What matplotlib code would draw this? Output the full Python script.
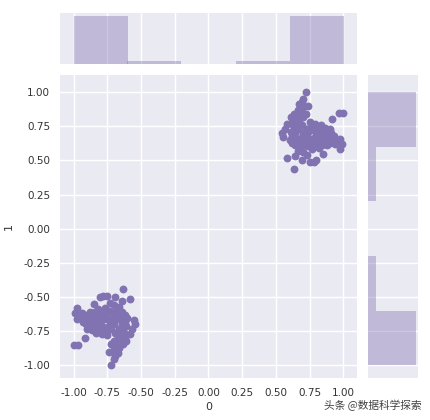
import matplotlib
matplotlib.use("Agg")
import matplotlib.pyplot as plt
import numpy as np

### data : two clusters, lower-left and upper-right
x_low = [-0.63, -0.78, -0.80, -0.755, -0.69, -0.58, -0.64, -0.85, -0.73, -0.975, -0.70, -0.77, -0.66, -0.82,
         -0.99, -0.94, -0.975, -0.96, -0.92, -0.90, -0.88, -0.86, -0.84, -0.82, -0.80, -0.78, -0.76, -0.74,
         -0.72, -0.70, -0.68, -0.66, -0.64, -0.62,
         -0.93, -0.91, -0.89, -0.87, -0.85, -0.83, -0.81, -0.79, -0.77, -0.75, -0.73, -0.71, -0.69, -0.67, -0.65,
         -0.90, -0.88, -0.86, -0.84, -0.82, -0.80, -0.78, -0.76, -0.74, -0.72, -0.70,
         -0.83, -0.79, -0.75, -0.69,
         -0.605, -0.555, -0.545, -0.565, -0.58, -0.61, -0.62, -0.61, -0.63, -0.62, -0.64, -0.66, -0.65, -0.68,
         -0.66, -0.64, -0.62, -0.63, -0.65, -0.67, -0.70, -0.72, -0.68, -0.66, -0.69, -0.70, -0.74, -0.67,
         -0.69, -0.70, -0.72,
         -1.00, -0.965, -0.915]
y_low = [-0.44, -0.49, -0.50, -0.49, -0.50, -0.515, -0.53, -0.55, -0.54, -0.58, -0.56, -0.58, -0.57, -0.59,
         -0.62, -0.62, -0.66, -0.64, -0.65, -0.63, -0.61, -0.63, -0.61, -0.62, -0.605, -0.61, -0.62, -0.605,
         -0.61, -0.62, -0.605, -0.62, -0.61, -0.63,
         -0.68, -0.70, -0.67, -0.69, -0.66, -0.68, -0.65, -0.67, -0.64, -0.66, -0.68, -0.65, -0.67, -0.64, -0.66,
         -0.73, -0.72, -0.74, -0.71, -0.73, -0.70, -0.72, -0.75, -0.71, -0.73, -0.70,
         -0.76, -0.77, -0.78, -0.76,
         -0.65, -0.67, -0.70, -0.73, -0.77, -0.82, -0.68, -0.71, -0.74, -0.77, -0.70, -0.73, -0.76, -0.77,
         -0.79, -0.80, -0.81, -0.84, -0.83, -0.82, -0.82, -0.84, -0.85, -0.87, -0.88, -0.89, -0.90, -0.91,
         -0.93, -0.95, -1.00,
         -0.85, -0.85, -0.80]
x_high = [0.63, 0.78, 0.80, 0.755, 0.69, 0.58, 0.64, 0.85, 0.73, 0.975, 0.70, 0.77, 0.66, 0.82,
          0.99, 0.94, 0.975, 0.96, 0.92, 0.90, 0.88, 0.86, 0.84, 0.82, 0.80, 0.78, 0.76, 0.74,
          0.72, 0.70, 0.68, 0.66, 0.64, 0.62,
          0.93, 0.91, 0.89, 0.87, 0.85, 0.83, 0.81, 0.79, 0.77, 0.75, 0.73, 0.71, 0.69, 0.67, 0.65,
          0.90, 0.88, 0.86, 0.84, 0.82, 0.80, 0.78, 0.76, 0.74, 0.72, 0.70,
          0.83, 0.79, 0.75, 0.69,
          0.605, 0.555, 0.545, 0.565, 0.58, 0.61, 0.62, 0.61, 0.63, 0.62, 0.64, 0.66, 0.65, 0.68,
          0.66, 0.64, 0.62, 0.63, 0.65, 0.67, 0.70, 0.72, 0.68, 0.66, 0.69, 0.70, 0.74, 0.67,
          0.69, 0.70, 0.72,
          1.00, 0.965, 0.915]
y_high = [0.44, 0.49, 0.50, 0.49, 0.50, 0.515, 0.53, 0.55, 0.54, 0.58, 0.56, 0.58, 0.57, 0.59,
          0.62, 0.62, 0.66, 0.64, 0.65, 0.63, 0.61, 0.63, 0.61, 0.62, 0.605, 0.61, 0.62, 0.605,
          0.61, 0.62, 0.605, 0.62, 0.61, 0.63,
          0.68, 0.70, 0.67, 0.69, 0.66, 0.68, 0.65, 0.67, 0.64, 0.66, 0.68, 0.65, 0.67, 0.64, 0.66,
          0.73, 0.72, 0.74, 0.71, 0.73, 0.70, 0.72, 0.75, 0.71, 0.73, 0.70,
          0.76, 0.77, 0.78, 0.76,
          0.65, 0.67, 0.70, 0.73, 0.77, 0.82, 0.68, 0.71, 0.74, 0.77, 0.70, 0.73, 0.76, 0.77,
          0.79, 0.80, 0.81, 0.84, 0.83, 0.82, 0.82, 0.84, 0.85, 0.87, 0.88, 0.89, 0.90, 0.91,
          0.93, 0.95, 1.00,
          0.85, 0.85, 0.80]

x = np.array(x_low + x_high)
y = np.array(y_low + y_high)
ticks = [-1.00, -0.75, -0.50, -0.25, 0.00, 0.25, 0.50, 0.75, 1.00]

### style
clr = "#8172B2"
bg = "#EAEAF2"
W, H = 431, 420

def box(l, t, r, b):
    return [l / W, 1 - b / H, (r - l) / W, (b - t) / H]

def dark(ax):
    ax.set_facecolor(bg)
    for s in ax.spines.values():
        s.set_visible(False)
    ax.set_axisbelow(True)
    ax.tick_params(length=0, labelsize=7.5, labelcolor="#333333", pad=7)

fig = plt.figure(figsize=(W / 100, H / 100), dpi=100)
ax = fig.add_axes(box(60, 75, 357, 378))
axx = fig.add_axes(box(60, 13, 357, 64), sharex=ax)
axy = fig.add_axes(box(368, 75, 418, 378), sharey=ax)
for a in (ax, axx, axy):
    dark(a)

# joint scatter
ax.scatter(x, y, s=32, color=clr, linewidth=0)
ax.set_xlim(-1.1, 1.1)
ax.set_ylim(-1.092, 1.125)
ax.set_xticks(ticks)
ax.set_yticks(ticks)
ax.set_xticklabels(["%.2f" % t for t in ticks])
ax.set_yticklabels(["%.2f" % t for t in ticks])
ax.grid(True, color="white", linewidth=1)
ax.set_xlabel("0", fontsize=8, color="#333333", labelpad=3)
ax.set_ylabel("1", fontsize=8, color="#333333", labelpad=7)

# marginal histograms
nx, _, _ = axx.hist(x, bins=5, color=clr, alpha=0.4)
ny, _, _ = axy.hist(y, bins=5, color=clr, alpha=0.4, orientation="horizontal")
axx.set_ylim(0, nx.max() * 1.06)
axy.set_xlim(0, ny.max() * 1.04)
axx.xaxis.grid(True, color="white", linewidth=1)
axx.yaxis.grid(False)
axy.yaxis.grid(True, color="white", linewidth=1)
axy.xaxis.grid(False)
plt.setp(axx.get_xticklabels() + axx.get_yticklabels(), visible=False)
plt.setp(axy.get_xticklabels() + axy.get_yticklabels(), visible=False)

# watermark
fig.text(422 / W, 1 - 405 / H, "头条 @数据科学探索", ha="right", va="center", fontsize=7.7,
         color="#404040", family=["Noto Sans CJK SC", "DejaVu Sans"])

plt.savefig("out.png", dpi=100)
